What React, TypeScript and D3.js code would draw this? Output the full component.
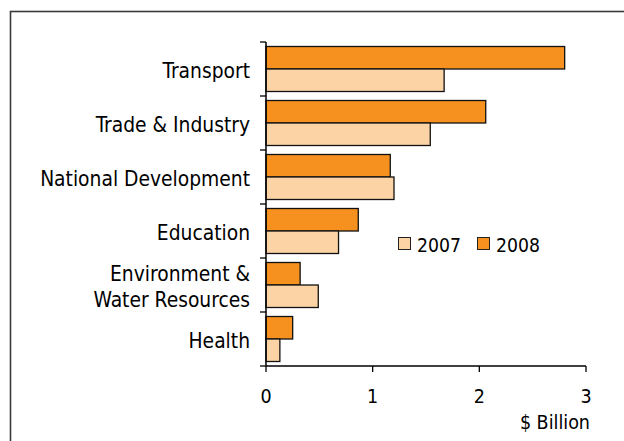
import React from "react";
import * as d3 from "d3";

const categories: string[][] = [
  ["Transport"],
  ["Trade & Industry"],
  ["National Development"],
  ["Education"],
  ["Environment &", "Water Resources"],
  ["Health"],
];
const values2007 = [1.67, 1.54, 1.2, 0.68, 0.49, 0.13];
const values2008 = [2.8, 2.06, 1.165, 0.865, 0.32, 0.25];
const seriesNames = ["2008", "2007"];
const legendOrder = ["2007", "2008"];
const xTicks = [0, 1, 2, 3];
const xTitle = "$ Billion";

const colors: Record<string, string> = { "2007": "#FCD3A5", "2008": "#F6911F" };
const FONT = "'DejaVu Sans Condensed', 'DejaVu Sans', sans-serif";

export default function App() {
  const W = 624;
  const H = 441;
  const keys = categories.map((c) => c.join(" "));
  const y = d3.scaleBand<string>().domain(keys).range([42, 366]).padding(0);
  const inner = d3
    .scaleBand<string>()
    .domain(seriesNames)
    .range([0, y.bandwidth()])
    .paddingInner(0)
    .paddingOuter(0.2);
  const x = d3.scaleLinear().domain([0, 3]).range([266, 586]);
  const x0 = x(0);
  const bounds = keys.map((k) => y(k)!).concat([y.range()[1]]);

  const data = keys.map((k, i) => ({ key: k, label: categories[i], v: { "2007": values2007[i], "2008": values2008[i] } as Record<string, number> }));

  return (
    <svg
      width={W}
      height={H}
      style={{ position: "absolute", left: 0, top: 0, display: "block", background: "#fff" }}
      fontFamily={FONT}
    >
      <rect x={10.5} y={11.5} width={700} height={500} fill="none" stroke="#3a3a3a" strokeWidth={1.6} />
      {/* bars */}
      {data.map((d) =>
        seriesNames.map((s) => (
          <rect
            key={d.key + s}
            x={x0}
            y={y(d.key)! + inner(s)!}
            width={x(d.v[s]) - x0}
            height={inner.bandwidth()}
            fill={colors[s]}
            stroke="#111"
            strokeWidth={1.3}
          />
        ))
      )}
      {/* y axis */}
      <line x1={x0} x2={x0} y1={42} y2={366} stroke="#000" strokeWidth={1.5} />
      {bounds.map((b, i) => (
        <line key={"yt" + i} x1={x0 - 6} x2={x0} y1={b} y2={b} stroke="#000" strokeWidth={1.3} />
      ))}
      {/* x axis */}
      <line x1={x0} x2={x(3)} y1={366} y2={366} stroke="#000" strokeWidth={1.5} />
      {xTicks.map((t) => (
        <g key={"xt" + t}>
          <line x1={x(t)} x2={x(t)} y1={366} y2={372} stroke="#000" strokeWidth={1.3} />
          <text x={x(t)} y={403} textAnchor="middle" fontSize={19.5} fill="#000">
            {t}
          </text>
        </g>
      ))}
      <text x={590} y={429} textAnchor="end" fontSize={19.5} fill="#000">
        {xTitle}
      </text>
      {/* category labels */}
      {data.map((d) => {
        const c = y(d.key)! + y.bandwidth() / 2;
        const n = d.label.length;
        const lh = 25.5;
        return (
          <text key={"l" + d.key} textAnchor="end" fontSize={20.8} fill="#000">
            {d.label.map((line, j) => (
              <tspan key={j} x={250} y={c + 9 + (j - (n - 1) / 2) * lh}>
                {line}
              </tspan>
            ))}
          </text>
        );
      })}
      {/* legend */}
      {legendOrder.map((s, i) => {
        const lx = 398 + i * 79;
        return (
          <g key={"lg" + s}>
            <rect x={lx + 0.5} y={237.5} width={12} height={12} fill={colors[s]} stroke="#222" strokeWidth={1} />
            <text x={lx + 19} y={251.5} fontSize={19.2} fill="#000">
              {s}
            </text>
          </g>
        );
      })}
    </svg>
  );
}
